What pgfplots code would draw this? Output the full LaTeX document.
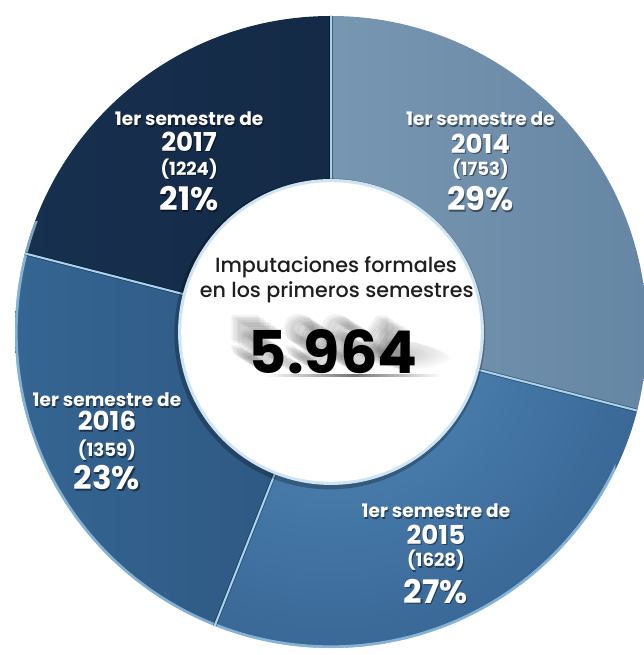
\documentclass[border=0pt]{standalone}
\usepackage{pgfplots}
\pgfplotsset{compat=1.18}
\usepackage{pgfplotstable}
\usepackage{fontspec}
\setmainfont{Poppins}
\newfontfamily\popmed{Poppins Medium}

\definecolor{cAl}{HTML}{8AA7BE}
\definecolor{cAd}{HTML}{6586A4}
\definecolor{cBl}{HTML}{528BBA}
\definecolor{cBd}{HTML}{3A6897}
\definecolor{cCl}{HTML}{356592}
\definecolor{cCd}{HTML}{24486F}
\definecolor{cDl}{HTML}{17304F}
\definecolor{cDd}{HTML}{11243D}
\definecolor{sepl}{HTML}{A6D3F0}
\definecolor{ringl}{HTML}{CFE4F3}
\definecolor{txt}{HTML}{1E1E1E}

\pgfplotstableread{
year count pct
2014 1753 29
2015 1628 27
2016 1359 23
2017 1224 21
}\donutdata

\newcommand\lab[4]{% x y fontsize text
  \node[text=black, opacity=0.45, font=\bfseries\fontsize{#3}{#3}\selectfont, inner sep=0pt] at ([xshift=0.5pt,yshift=-0.6pt]axis cs:#1,#2) {#4};%
  \node[text=white, font=\bfseries\fontsize{#3}{#3}\selectfont, inner sep=0pt] at (axis cs:#1,#2) {#4};}

\begin{document}%
\begin{tikzpicture}
\pgfplotstablegetelem{0}{pct}\of\donutdata\edef\pA{\pgfplotsretval}
\pgfplotstablegetelem{1}{pct}\of\donutdata\edef\pB{\pgfplotsretval}
\pgfplotstablegetelem{2}{pct}\of\donutdata\edef\pC{\pgfplotsretval}
\pgfplotstablegetelem{3}{pct}\of\donutdata\edef\pD{\pgfplotsretval}
\pgfmathsetmacro\aZ{90}
\pgfmathsetmacro\aA{\aZ-3.6*\pA}
\pgfmathsetmacro\aB{\aA-3.6*\pB}
\pgfmathsetmacro\aC{\aB-3.6*\pC}
\pgfmathsetmacro\aD{\aC-3.6*\pD}
\begin{axis}[
  x=4.9cm, y=4.9cm, scale only axis,
  xmin=-1.0475, xmax=0.9905, ymin=-1.0222, ymax=1.0506,
  hide axis, clip=true,
]
% segments
\begin{scope}
\clip (axis cs:0,0) -- (axis cs:{3*cos(\aZ)},{3*sin(\aZ)}) -- (axis cs:{3*cos((\aZ+\aA)/2)},{3*sin((\aZ+\aA)/2)}) -- (axis cs:{3*cos(\aA)},{3*sin(\aA)}) -- cycle;
\shade[left color=cAl, right color=cAd] (axis cs:0,0) circle[radius=1];
\end{scope}
\begin{scope}
\clip (axis cs:0,0) -- (axis cs:{3*cos(\aA)},{3*sin(\aA)}) -- (axis cs:{3*cos((\aA+\aB)/2)},{3*sin((\aA+\aB)/2)}) -- (axis cs:{3*cos(\aB)},{3*sin(\aB)}) -- cycle;
\shade[inner color=cBl, outer color=cBd] (axis cs:0,0) circle[radius=1];
\end{scope}
\begin{scope}
\clip (axis cs:0,0) -- (axis cs:{3*cos(\aB)},{3*sin(\aB)}) -- (axis cs:{3*cos((\aB+\aC)/2)},{3*sin((\aB+\aC)/2)}) -- (axis cs:{3*cos(\aC)},{3*sin(\aC)}) -- cycle;
\shade[left color=cCl, right color=cCd] (axis cs:0,0) circle[radius=1];
\end{scope}
\begin{scope}
\clip (axis cs:0,0) -- (axis cs:{3*cos(\aC)},{3*sin(\aC)}) -- (axis cs:{3*cos((\aC+\aD)/2)},{3*sin((\aC+\aD)/2)}) -- (axis cs:{3*cos(\aD)},{3*sin(\aD)}) -- cycle;
\shade[left color=cDl, right color=cDd] (axis cs:0,0) circle[radius=1];
\end{scope}
% outer rim (light on left and bottom)
\begin{scope}
\clip (axis cs:-1.2,0.35) rectangle (axis cs:0.9,-1.2);
\draw[sepl, opacity=0.7, line width=1.2pt] (axis cs:0,0) circle[radius=0.996];
\end{scope}
% separators
\pgfplotsinvokeforeach{\aZ,\aA,\aB,\aC}{
  \draw[black, opacity=0.35, line width=1.6pt] (axis cs:{0.48*cos(#1)},{0.48*sin(#1)}) -- (axis cs:{cos(#1)},{sin(#1)});
  \draw[sepl, line width=0.9pt] (axis cs:{0.48*cos(#1)},{0.48*sin(#1)}) -- (axis cs:{cos(#1)},{sin(#1)});
}
% inner circle
\fill[black, opacity=0.25] (axis cs:-0.004,-0.006) circle[radius=0.492];
\fill[ringl] (axis cs:0,0) circle[radius=0.484];
\fill[white] (axis cs:0,0) circle[radius=0.474];
% blur streak and underline behind the total
\shade[inner color=black!22, outer color=white, rotate around={-10:(axis cs:0.22,-0.07)}] (axis cs:0.22,-0.07) ellipse[x radius=0.17, y radius=0.045];
\shade[left color=white, right color=white, middle color=black!55] (axis cs:-0.21,-0.142) rectangle (axis cs:0.35,-0.135);
% center text
\node[text=txt, font=\popmed\fontsize{9.1}{9.1}\selectfont, inner sep=0pt] at (axis cs:0.016,0.206) {Imputaciones formales};
\node[text=txt, font=\popmed\fontsize{9.1}{9.1}\selectfont, inner sep=0pt] at (axis cs:0.018,0.125) {en los primeros semestres};
\pgfplotsinvokeforeach{1,...,9}{
  \node[text=black, opacity=0.05, font=\bfseries\fontsize{26}{26}\selectfont, inner sep=0pt] at ([xshift=-#1*1.1pt, yshift=#1*0.7pt]axis cs:0.007,-0.061) {5.964};
}
\node[text=black, font=\bfseries\fontsize{26}{26}\selectfont, inner sep=0pt] at (axis cs:0.007,-0.061) {5.964};
% labels
\lab{0.473}{0.674}{8.2}{1er semestre de}
\lab{0.473}{0.596}{11.5}{2014}
\lab{0.473}{0.515}{8}{(1753)}
\lab{0.473}{0.421}{14.3}{29\%}
\lab{0.332}{-0.567}{8.2}{1er semestre de}
\lab{0.332}{-0.642}{11.5}{2015}
\lab{0.332}{-0.723}{8}{(1628)}
\lab{0.332}{-0.820}{14.3}{27\%}
\lab{-0.709}{-0.215}{8.2}{1er semestre de}
\lab{-0.709}{-0.282}{11.5}{2016}
\lab{-0.709}{-0.375}{8}{(1359)}
\lab{-0.709}{-0.462}{14.3}{23\%}
\lab{-0.449}{0.674}{8.2}{1er semestre de}
\lab{-0.449}{0.602}{11.5}{2017}
\lab{-0.449}{0.515}{8}{(1224)}
\lab{-0.449}{0.421}{14.3}{21\%}
\end{axis}
\pgfresetboundingbox
\useasboundingbox (current axis.south west) rectangle (current axis.north east);
\end{tikzpicture}%
\end{document}
